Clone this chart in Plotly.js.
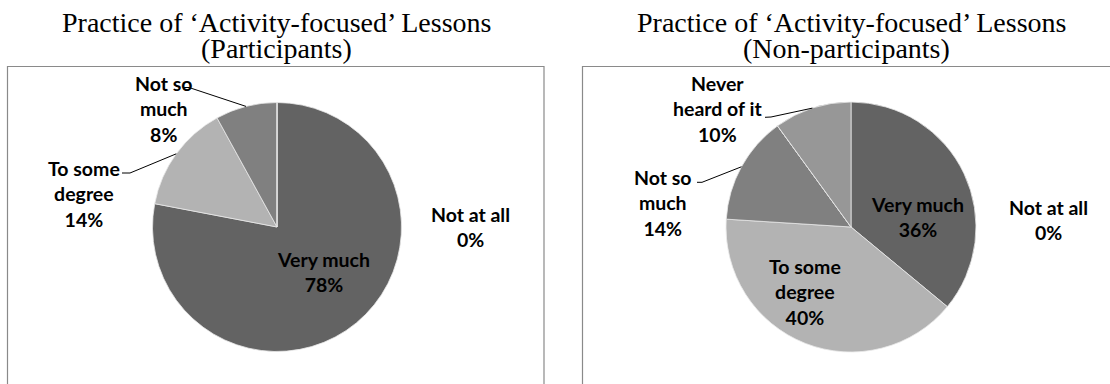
<!DOCTYPE html>
<html>
<head>
<meta charset="utf-8">
<script src="https://cdn.plot.ly/plotly-3.0.1.min.js"></script>
<style>html,body{margin:0;padding:0;background:#fff;}#chart{width:1110px;height:384px;}</style>
</head>
<body>
<div id="chart"></div>
<script>
// ---- data ----
const titleLeft = ["Practice of \u2018Activity-focused\u2019 Lessons", "(Participants)"];
const titleRight = ["Practice of \u2018Activity-focused\u2019 Lessons", "(Non-participants)"];

const categoriesLeft = ["Very much", "To some degree", "Not so much", "Not at all"];
const valuesLeft = [78, 14, 8, 0];
const labelTextLeft = ["Very much", "To some<br>degree", "Not so<br>much", "Not at all"];

const categoriesRight = ["Very much", "To some degree", "Not so much", "Not at all", "Never heard of it"];
const valuesRight = [36, 40, 14, 0, 10];
const labelTextRight = ["Very much", "To some<br>degree", "Not so<br>much", "Not at all", "Never<br>heard of it"];

// ---- styles / layout config ----
const W = 1110, H = 384;
const colorMap = {
  "Very much": "#636363",
  "To some degree": "#b3b3b3",
  "Not so much": "#808080",
  "Not at all": "#a0a0a0",
  "Never heard of it": "#979797"
};
const pieLeft = {cx: 277, cy: 227, r: 124.5};
const pieRight = {cx: 851, cy: 227, r: 125};

// label block centres (pixels) and optional leader start points (pixels)
const labelPosLeft = [
  {x: 323, y: 272},
  {x: 84, y: 194, lead: [[122, 173], [130, 173]]},
  {x: 164, y: 109, lead: [[183, 87.5], [189, 87.5]]},
  {x: 470, y: 226.5}
];
const labelPosRight = [
  {x: 917, y: 217},
  {x: 805, y: 291.5},
  {x: 663, y: 203, lead: [[697, 182.3], [702, 182.3]]},
  {x: 1048, y: 220},
  {x: 717, y: 109, lead: [[765, 117.3], [771, 117]]}
];

const px = x => x / W;
const py = y => 1 - y / H;

function domainOf(p) {
  return {x: [px(p.cx - p.r), px(p.cx + p.r)], y: [py(p.cy + p.r), py(p.cy - p.r)]};
}

function pieTrace(cats, vals, geom) {
  return {
    type: "pie",
    labels: cats,
    values: vals,
    sort: false,
    direction: "clockwise",
    rotation: 0,
    textinfo: "none",
    hoverinfo: "label+percent",
    marker: {colors: cats.map(c => colorMap[c]), line: {color: "#e8e8e8", width: 0.8}},
    domain: domainOf(geom),
    showlegend: false
  };
}

const annotations = [];
const shapes = [];
const labelFont = {family: "Lato, 'DejaVu Sans', sans-serif", size: 19.5, color: "#000000", weight: 700};

function addLabels(cats, vals, texts, pos, geom) {
  const total = vals.reduce((a, b) => a + b, 0);
  let cum = 0;
  cats.forEach((c, i) => {
    const pct = Math.round(vals[i] / total * 100) + "%";
    const p = pos[i];
    annotations.push({
      xref: "paper", yref: "paper",
      x: px(p.x), y: py(p.y),
      xanchor: "center", yanchor: "middle",
      text: "<b>" + texts[i] + "<br>" + pct + "</b>",
      showarrow: false, align: "center",
      font: labelFont
    });
    const mid = 2 * Math.PI * (cum + vals[i] / 2) / total;
    cum += vals[i];
    if (p.lead) {
      const ex = geom.cx + geom.r * Math.sin(mid);
      const ey = geom.cy - geom.r * Math.cos(mid);
      const pts = p.lead.concat([[ex, ey]]);
      const path = pts.map((q, k) => (k ? "L " : "M ") + px(q[0]) + " " + py(q[1])).join(" ");
      shapes.push({type: "path", xref: "paper", yref: "paper", path: path,
        line: {color: "#000000", width: 1}});
    }
  });
}

addLabels(categoriesLeft, valuesLeft, labelTextLeft, labelPosLeft, pieLeft);
addLabels(categoriesRight, valuesRight, labelTextRight, labelPosRight, pieRight);

// titles (two lines each)
const titleFont = {family: "'Liberation Serif', 'Times New Roman', serif", size: 28, color: "#000000"};
[[titleLeft, [276.5, 276.5]], [titleRight, [851.5, 846.5]]].forEach(([lines, xs]) => {
  const ys = [22.3, 48.9];
  lines.forEach((t, k) => annotations.push({
    xref: "paper", yref: "paper", x: px(xs[k]), y: py(ys[k]),
    xanchor: "center", yanchor: "middle", text: t, showarrow: false, font: titleFont
  }));
});

// chart-area frames
shapes.push({type: "rect", xref: "paper", yref: "paper", layer: "below",
  x0: px(7.5), x1: px(544), y0: -0.1, y1: py(66.5), line: {color: "#8a8a8a", width: 1.2}});
shapes.push({type: "rect", xref: "paper", yref: "paper", layer: "below",
  x0: px(582.5), x1: 1.1, y0: -0.1, y1: py(66.5), line: {color: "#8a8a8a", width: 1.2}});

const layout = {
  width: W, height: H,
  margin: {l: 0, r: 0, t: 0, b: 0},
  paper_bgcolor: "#ffffff",
  showlegend: false,
  annotations: annotations,
  shapes: shapes
};

Plotly.newPlot("chart", [
  pieTrace(categoriesLeft, valuesLeft, pieLeft),
  pieTrace(categoriesRight, valuesRight, pieRight)
], layout, {displayModeBar: false, staticPlot: true});
</script>
</body>
</html>
